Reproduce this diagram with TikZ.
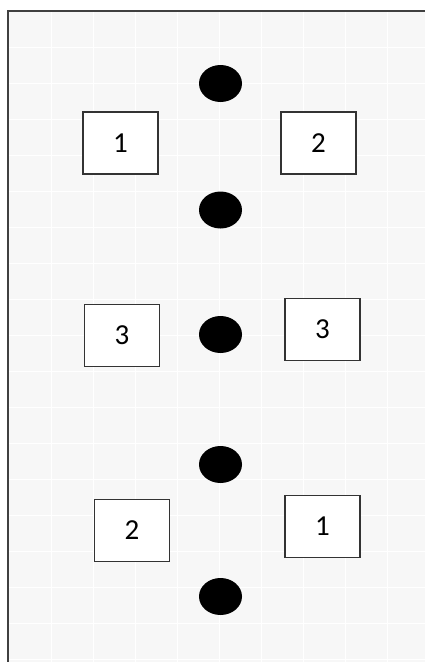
\documentclass[tikz,border=0pt]{standalone}
\usepackage{fontspec}
\setmainfont{Carlito}
\usepackage{tikz}
\usetikzlibrary{shapes.geometric}

\tikzset{
  numbox/.style={draw=black!80, line width=1.4pt, fill=white, minimum width=75pt, minimum height=62pt, inner sep=0pt, font=\fontsize{29}{32}\selectfont},
  dot/.style={ellipse, fill=black, minimum width=43pt, minimum height=37pt, inner sep=0pt},
  gridline/.style={white, line width=1pt}
}

\begin{document}
\begin{tikzpicture}[x=1pt, y=-1pt]
\useasboundingbox (0, 0) rectangle (425, 662);
\fill[white] (0, 0) rectangle (425, 662);

\fill[black!3] (8, 11) rectangle (425, 662); % paper
\foreach \gx in {51,93,135,177,219,261,303,345,387} {
  \draw[gridline] (\gx, 11) -- (\gx, 662);
}
\foreach \gy in {47,83,119,155,191,227,263,299,335,371,407,443,479,515,551,587,623,659} {
  \draw[gridline] (8, \gy) -- (425, \gy);
}
\draw[black!75, line width=2.4pt] (8, 662) -- (8, 11) -- (425, 11); % frame

\node[dot] (d1) at (220.5, 83.5) {};
\node[dot] (d2) at (220.5, 210) {};
\node[dot] (d3) at (220.5, 334.5) {};
\node[dot] (d4) at (220.5, 464.5) {};
\node[dot] (d5) at (220.5, 596.5) {};

\node[numbox] (topL) at (120.5, 143) {1};
\node[numbox] (topR) at (318.5, 143) {2};
\node[numbox] (midL) at (122, 335.5) {3};
\node[numbox] (midR) at (322.5, 329.5) {3};
\node[numbox] (botL) at (132, 530.5) {2};
\node[numbox] (botR) at (322.5, 526.5) {1};
\end{tikzpicture}
\end{document}
